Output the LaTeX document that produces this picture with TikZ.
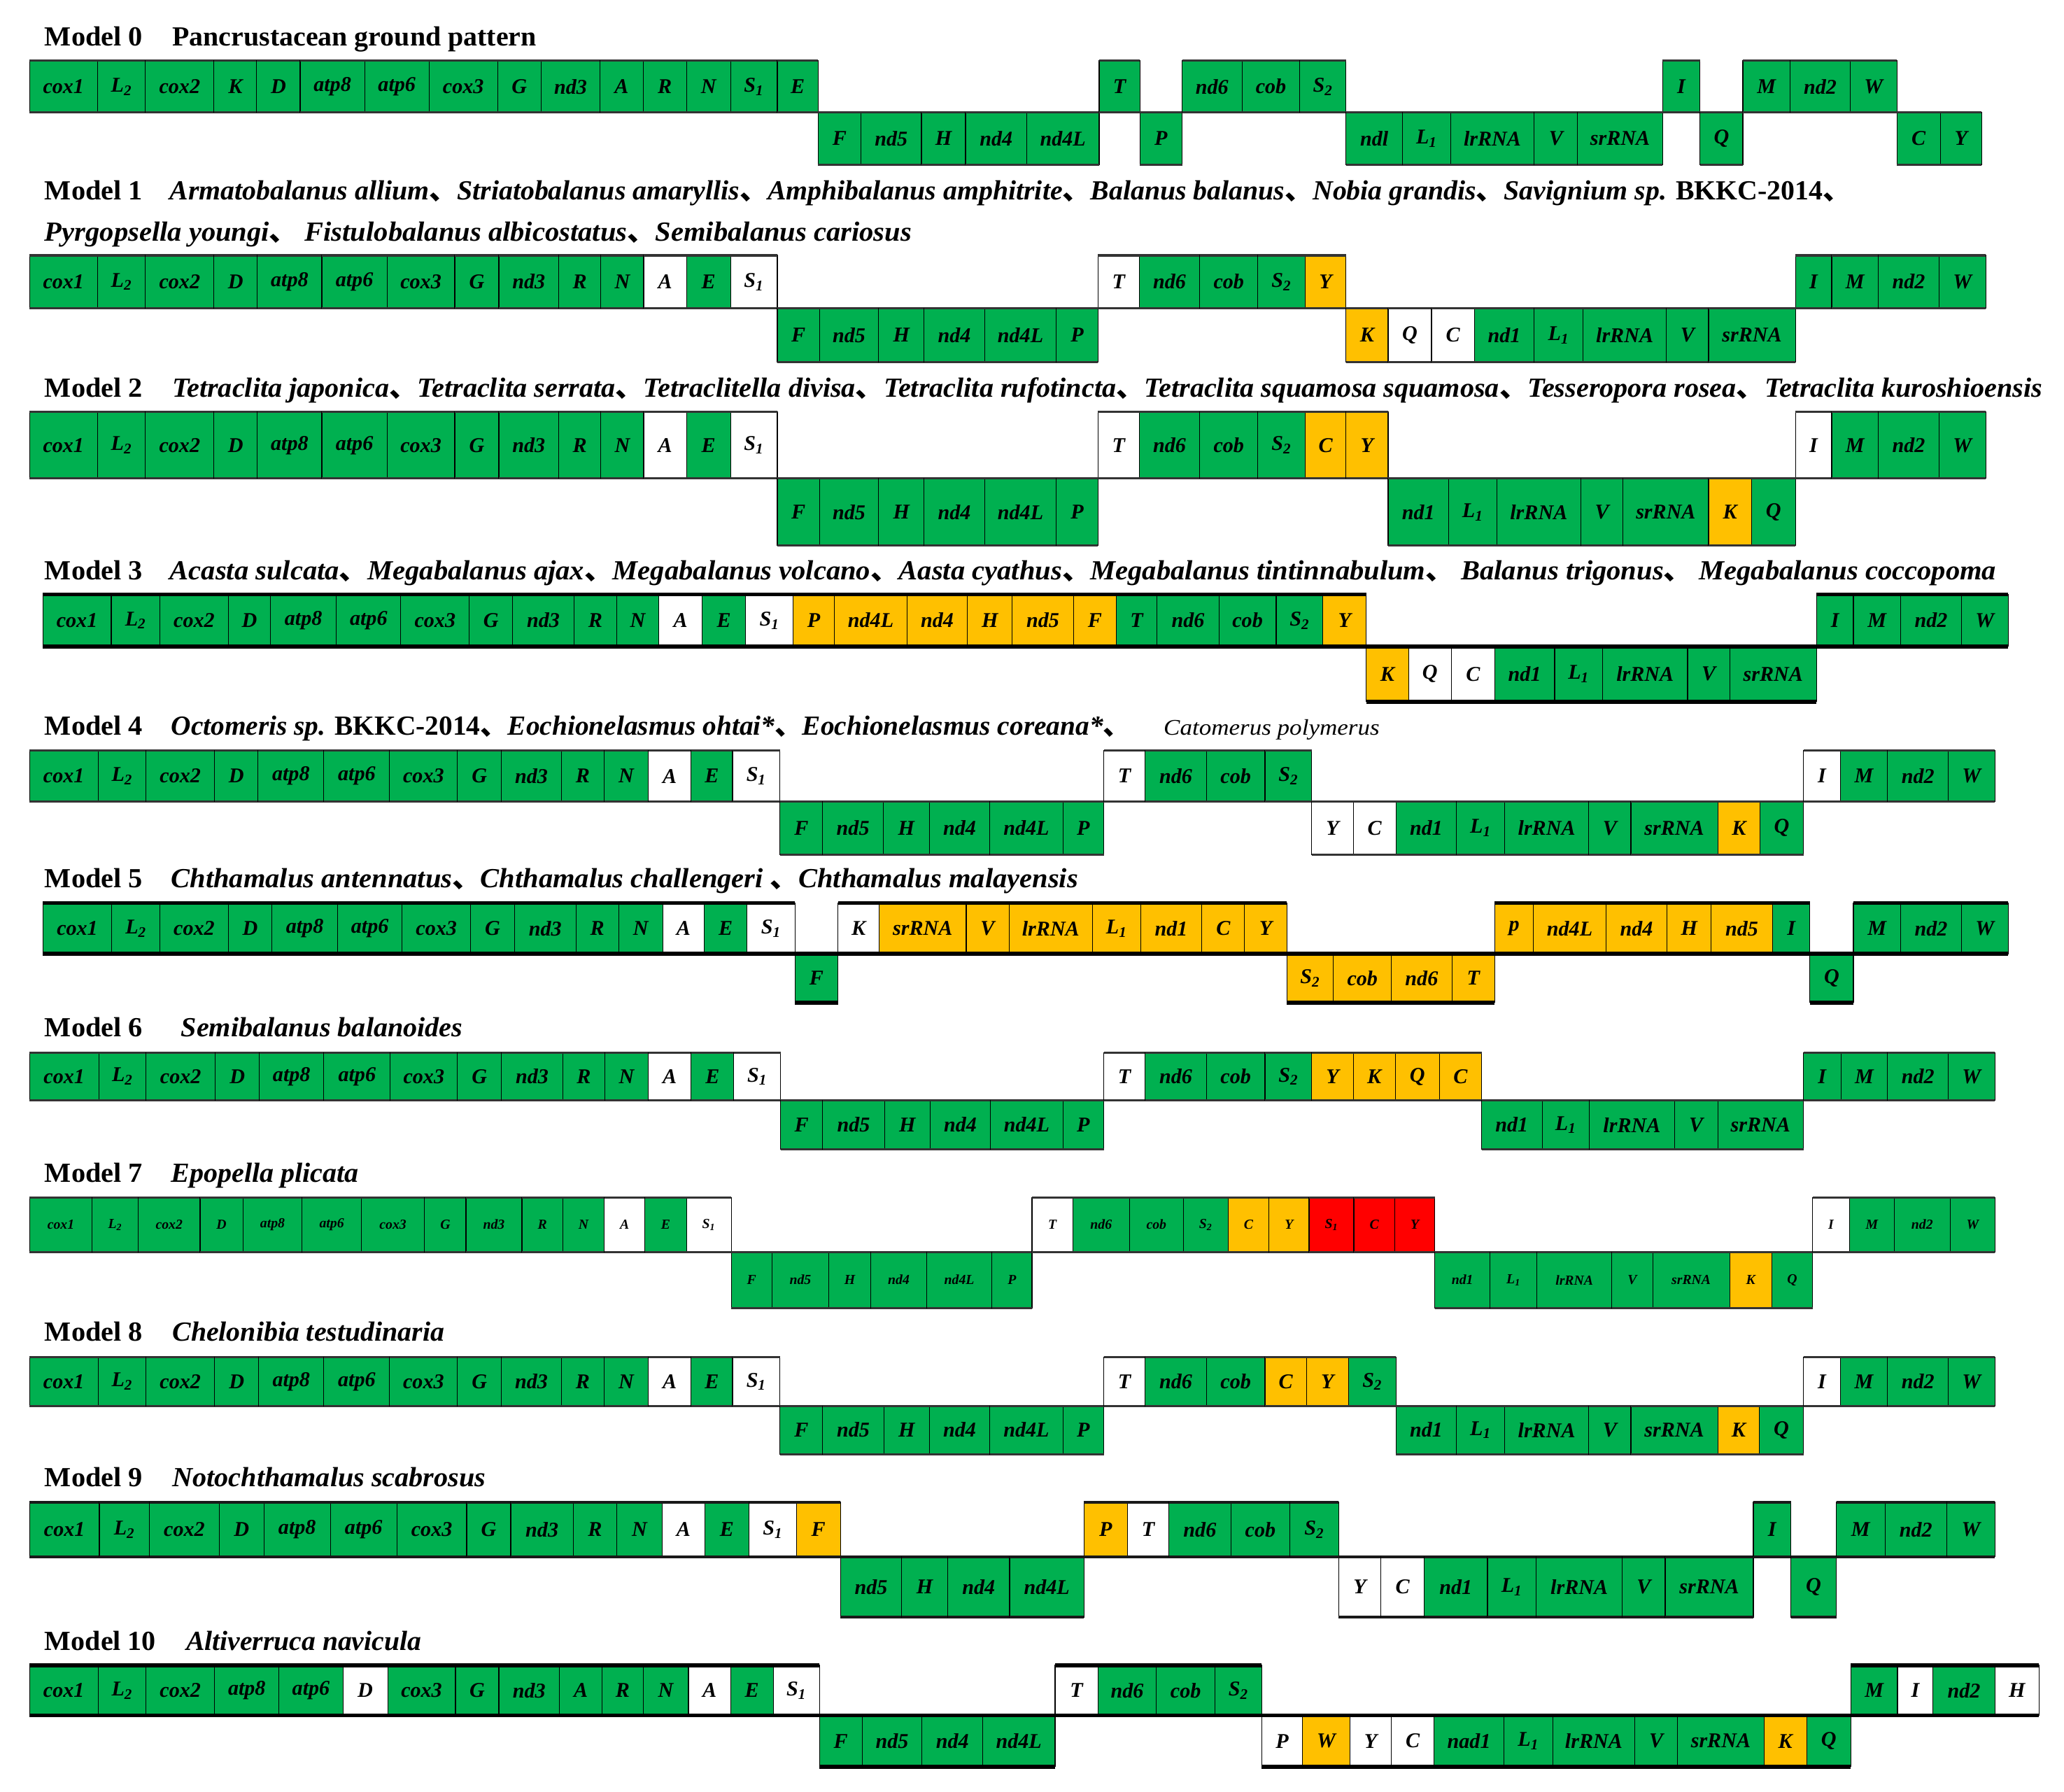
\documentclass[tikz,border=0pt]{standalone}
\usepackage{fontspec}
\setmainfont{Liberation Serif}
\newfontfamily\cjk{Noto Sans CJK SC}
\usepackage{graphicx}
\definecolor{cg}{HTML}{00B050}
\definecolor{co}{HTML}{FFC000}
\definecolor{cr}{HTML}{FF0000}
\definecolor{cw}{HTML}{FFFFFF}
\newcommand\dun{{\cjk 、}}
\newcommand\gLa{L\textsubscript{1}}
\newcommand\gLb{L\textsubscript{2}}
\newcommand\gSa{S\textsubscript{1}}
\newcommand\gSb{S\textsubscript{2}}
\tikzset{
 genebox/.style={draw=black, line width=0.6pt, inner sep=0pt, outer sep=0pt,
   font=\bfseries\itshape\fontsize{16}{16}\selectfont, text=black},
 geneedge/.style={line width=1.6pt, draw=black!80},
 heavy/.style={geneedge/.style={line width=3pt, draw=black}},
 titletext/.style={inner sep=0pt, outer sep=0pt, anchor=base west,
   font=\bfseries\fontsize{21}{21}\selectfont},
}
% #1 options, #2 id, #3 x0, #4 ytop, #5 ymid, #6 ybot, #7 list xend/row/colour/label
\newcommand\genemodel[7][]{%
 \begin{scope}[#1]
 \xdef\prevx{#3}%
 \foreach \xe/\rw/\cl/\lb [count=\i] in {#7} {%
   \pgfmathsetmacro\yt{\rw==0 ? #4 : #5}%
   \pgfmathsetmacro\yb{\rw==0 ? #5 : #6}%
   \pgfmathsetmacro\w{\xe-\prevx}%
   \pgfmathsetmacro\h{\yb-\yt}%
   \node[genebox, fill=\cl, minimum width=\w pt, minimum height=\h pt, anchor=north west] (m#2g\i) at (\prevx,-\yt) {\lb};
   \draw[geneedge] (m#2g\i.north west) -- (m#2g\i.north east) (m#2g\i.south west) -- (m#2g\i.south east);
   \xdef\prevx{\xe}%
 }
 \end{scope}}
\begin{document}
\begin{tikzpicture}[x=1pt,y=1pt]
\fill[white] (0,0) rectangle (1568,-1361);
\useasboundingbox (0,0) rectangle (1568,-1361);

% ---------- titles ----------
\node[titletext] (t0) at (34,-35) {\resizebox{74.5pt}{\height}{Model 0}};
\node[titletext] (s0) at (131,-35) {\resizebox{276.5pt}{\height}{Pancrustacean ground pattern}};
\node[titletext] (t1) at (34,-152) {\resizebox{74.5pt}{\height}{Model 1}};
\node[titletext] (s1a) at (129,-152) {\resizebox{1277pt}{\height}{\itshape Armatobalanus allium\dun Striatobalanus amaryllis\dun Amphibalanus amphitrite\dun Balanus balanus\dun Nobia grandis\dun Savignium sp. {\upshape BKKC-2014}\dun}};
\node[titletext] (s1b) at (34,-183) {\resizebox{658.5pt}{\height}{\itshape Pyrgopsella youngi\dun\ Fistulobalanus albicostatus\dun Semibalanus cariosus}};
\node[titletext] (t2) at (34,-301.5) {\resizebox{74.5pt}{\height}{Model 2}};
\node[titletext] (s2) at (131,-301.5) {\resizebox{1420.5pt}{\height}{\itshape Tetraclita japonica\dun Tetraclita serrata\dun Tetraclitella divisa\dun Tetraclita rufotincta\dun Tetraclita squamosa squamosa\dun Tesseropora rosea\dun Tetraclita kuroshioensis}};
\node[titletext] (t3) at (34,-440.5) {\resizebox{74.5pt}{\height}{Model 3}};
\node[titletext] (s3) at (129,-440.5) {\resizebox{1387.5pt}{\height}{\itshape Acasta sulcata\dun Megabalanus ajax\dun Megabalanus volcano\dun Aasta cyathus\dun Megabalanus tintinnabulum\dun\ Balanus trigonus\dun\ Megabalanus coccopoma}};
\node[titletext] (t4) at (34,-558.5) {\resizebox{74.5pt}{\height}{Model 4}};
\node[titletext] (s4) at (130,-558.5) {\resizebox{729pt}{\height}{\itshape Octomeris sp. {\upshape BKKC-2014}\dun Eochionelasmus ohtai*\dun Eochionelasmus coreana*\dun}};
\node[titletext] (s4b) at (884,-558.5) {\resizebox{164pt}{\height}{\mdseries\itshape\fontsize{17}{17}\selectfont Catomerus polymerus}};
\node[titletext] (t5) at (34,-674) {\resizebox{74.5pt}{\height}{Model 5}};
\node[titletext] (s5) at (130,-674) {\resizebox{689pt}{\height}{\itshape Chthamalus antennatus\dun Chthamalus challengeri \dun Chthamalus malayensis}};
\node[titletext] (t6) at (34,-787.5) {\resizebox{74.5pt}{\height}{Model 6}};
\node[titletext] (s6) at (137.5,-787.5) {\resizebox{214pt}{\height}{\itshape Semibalanus balanoides}};
\node[titletext] (t7) at (34,-898) {\resizebox{74.5pt}{\height}{Model 7}};
\node[titletext] (s7) at (130,-898) {\resizebox{142.5pt}{\height}{\itshape Epopella plicata}};
\node[titletext] (t8) at (34,-1018.5) {\resizebox{74.5pt}{\height}{Model 8}};
\node[titletext] (s8) at (131,-1018.5) {\resizebox{206.5pt}{\height}{\itshape Chelonibia testudinaria}};
\node[titletext] (t9) at (34,-1129) {\resizebox{74.5pt}{\height}{Model 9}};
\node[titletext] (s9) at (131,-1129) {\resizebox{238pt}{\height}{\itshape Notochthamalus scabrosus}};
\node[titletext] (t10) at (34,-1253.5) {\resizebox{84.5pt}{\height}{Model 10}};
\node[titletext] (s10) at (141.5,-1253.5) {\resizebox{178.5pt}{\height}{\itshape Altiverruca navicula}};

% ---------- Model 0 ----------
\genemodel{0}{22.5}{46}{85.5}{125}{74/0/cg/cox1, 110.5/0/cg/\gLb, 162.5/0/cg/cox2, 195/0/cg/K, 228/0/cg/D, 277/0/cg/atp8, 326/0/cg/atp6, 378/0/cg/cox3, 411/0/cg/G, 456/0/cg/nd3, 488.5/0/cg/A, 521.5/0/cg/R, 555/0/cg/N, 590.5/0/cg/\gSa, 621.5/0/cg/E,
654/1/cg/F, 700/1/cg/nd5, 733.5/1/cg/H, 780/1/cg/nd4, 835/1/cg/nd4L, 866/0/cg/T, 898/1/cg/P, 943.5/0/cg/nd6, 987.5/0/cg/cob, 1022.5/0/cg/\gSb, 1065.5/1/cg/ndl, 1102/1/cg/\gLa, 1165.5/1/cg/lrRNA, 1198.5/1/cg/V, 1263/1/cg/srRNA, 1291.5/0/cg/I, 1324/1/cg/Q, 1360/0/cg/M, 1405.5/0/cg/nd2, 1441/0/cg/W, 1474/1/cg/C, 1505.5/1/cg/Y}

% ---------- Model 1 ----------
\genemodel{1}{22.5}{194}{234}{275}{74/0/cg/cox1, 110.5/0/cg/\gLb, 162.5/0/cg/cox2, 195.5/0/cg/D, 244.5/0/cg/atp8, 294/0/cg/atp6, 345.5/0/cg/cox3, 379/0/cg/G, 424.5/0/cg/nd3, 456.5/0/cg/R, 489/0/cg/N, 521.5/0/cw/A, 555/0/cg/E, 590.5/0/cw/\gSa,
622.5/1/cg/F, 667.5/1/cg/nd5, 702/1/cg/H, 748/1/cg/nd4, 802.5/1/cg/nd4L, 834/1/cg/P,
865.5/0/cw/T, 911.5/0/cg/nd6, 955.5/0/cg/cob, 991.5/0/cg/\gSb, 1022.5/0/co/Y,
1054.5/1/co/K, 1087.5/1/cw/Q, 1120/1/cw/C, 1165.5/1/cg/nd1, 1202.5/1/cg/\gLa, 1266/1/cg/lrRNA, 1298/1/cg/V, 1364/1/cg/srRNA,
1391.5/0/cg/I, 1427/0/cg/M, 1473/0/cg/nd2, 1508.5/0/cg/W}

% ---------- Model 2 ----------
\genemodel{2}{22.5}{313}{363.5}{414.5}{74/0/cg/cox1, 110.5/0/cg/\gLb, 162.5/0/cg/cox2, 195.5/0/cg/D, 244.5/0/cg/atp8, 294/0/cg/atp6, 345.5/0/cg/cox3, 379/0/cg/G, 424.5/0/cg/nd3, 456.5/0/cg/R, 489/0/cg/N, 521.5/0/cw/A, 555/0/cg/E, 590.5/0/cw/\gSa,
622.5/1/cg/F, 667.5/1/cg/nd5, 702/1/cg/H, 748/1/cg/nd4, 802.5/1/cg/nd4L, 834/1/cg/P,
865.5/0/cw/T, 911.5/0/cg/nd6, 955.5/0/cg/cob, 991.5/0/cg/\gSb, 1022.5/0/co/C, 1054.5/0/co/Y,
1100.5/1/cg/nd1, 1137/1/cg/\gLa, 1201/1/cg/lrRNA, 1233/1/cg/V, 1298/1/cg/srRNA, 1330.5/1/co/K, 1364/1/cg/Q,
1391.5/0/cw/I, 1427/0/cg/M, 1473/0/cg/nd2, 1508.5/0/cg/W}

% ---------- Model 3 ----------
\genemodel[heavy]{3}{32.5}{451.5}{491}{533}{84.5/0/cg/cox1, 121.5/0/cg/\gLb, 173.5/0/cg/cox2, 205.5/0/cg/D, 255.5/0/cg/atp8, 304.5/0/cg/atp6, 356.5/0/cg/cox3, 389.5/0/cg/G, 436/0/cg/nd3, 468.5/0/cg/R, 500.5/0/cg/N, 533.5/0/cw/A, 566.5/0/cg/E, 602.5/0/cw/\gSa, 634/0/co/P, 689/0/co/nd4L, 735/0/co/nd4, 769/0/co/H, 815.5/0/co/nd5, 848/0/co/F, 879/0/cg/T, 926/0/cg/nd6, 969.5/0/cg/cob, 1005/0/cg/\gSb, 1038/0/co/Y,
1070/1/co/K, 1102.5/1/cw/Q, 1135.5/1/cw/C, 1181/1/cg/nd1, 1217.5/1/cg/\gLa, 1282/1/cg/lrRNA, 1314/1/cg/V, 1380/1/cg/srRNA,
1408/0/cg/I, 1444/0/cg/M, 1490/0/cg/nd2, 1525.5/0/cg/W}

% ---------- Model 4 ----------
\genemodel{4}{22.5}{570}{609}{649}{74.5/0/cg/cox1, 111/0/cg/\gLb, 163/0/cg/cox2, 196/0/cg/D, 246/0/cg/atp8, 296/0/cg/atp6, 347.5/0/cg/cox3, 381/0/cg/G, 426.5/0/cg/nd3, 459/0/cg/R, 492.5/0/cg/N, 525/0/cw/A, 556.5/0/cg/E, 592.5/0/cw/\gSa,
625/1/cg/F, 671/1/cg/nd5, 706/1/cg/H, 752/1/cg/nd4, 807.5/1/cg/nd4L, 838.5/1/cg/P,
870/0/cw/T, 916.5/0/cg/nd6, 961/0/cg/cob, 996.5/0/cg/\gSb,
1028/1/cw/Y, 1060.5/1/cw/C, 1106.5/1/cg/nd1, 1143/1/cg/\gLa, 1207/1/cg/lrRNA, 1239/1/cg/V, 1305/1/cg/srRNA, 1337/1/co/K, 1370/1/cg/Q,
1398/0/cw/I, 1434/0/cg/M, 1480/0/cg/nd2, 1515.5/0/cg/W}

% ---------- Model 5 ----------
\genemodel[heavy]{5}{32.5}{686}{724.5}{761.5}{85/0/cg/cox1, 121.5/0/cg/\gLb, 173.5/0/cg/cox2, 206.5/0/cg/D, 256.5/0/cg/atp8, 305.5/0/cg/atp6, 357.5/0/cg/cox3, 391/0/cg/G, 437.5/0/cg/nd3, 470/0/cg/R, 503.5/0/cg/N, 535/0/cw/A, 567.5/0/cg/E, 604/0/cw/\gSa,
636.5/1/cg/F,
668/0/cw/K, 734/0/co/srRNA, 766.5/0/co/V, 830/0/co/lrRNA, 866.5/0/co/\gLa, 913/0/co/nd1, 945.5/0/co/C, 977.5/0/co/Y,
1013/1/co/\gSb, 1057/1/co/cob, 1103/1/co/nd6, 1135.5/1/co/T,
1165/0/co/p, 1220/0/co/nd4L, 1266.5/0/co/nd4, 1300/0/co/H, 1346.5/0/co/nd5, 1375/0/cg/I,
1408/1/cg/Q,
1444/0/cg/M, 1490/0/cg/nd2, 1525.5/0/cg/W}

% ---------- Model 6 ----------
\genemodel{6}{22.5}{799.5}{836}{873}{75/0/cg/cox1, 111/0/cg/\gLb, 163.5/0/cg/cox2, 197/0/cg/D, 246/0/cg/atp8, 296.5/0/cg/atp6, 347.5/0/cg/cox3, 381/0/cg/G, 427.5/0/cg/nd3, 459.5/0/cg/R, 492.5/0/cg/N, 525/0/cw/A, 557.5/0/cg/E, 593/0/cw/\gSa,
625/1/cg/F, 672/1/cg/nd5, 706.5/1/cg/H, 752.5/1/cg/nd4, 807.5/1/cg/nd4L, 838.5/1/cg/P,
870/0/cw/T, 916.5/0/cg/nd6, 961/0/cg/cob, 996.5/0/cg/\gSb, 1028/0/co/Y, 1060/0/co/K, 1093.5/0/co/Q, 1125.5/0/co/C,
1171.5/1/cg/nd1, 1207.5/1/cg/\gLa, 1272/1/cg/lrRNA, 1305/1/cg/V, 1370/1/cg/srRNA,
1398.5/0/cg/I, 1434/0/cg/M, 1480/0/cg/nd2, 1515.5/0/cg/W}

% ---------- Model 7 ----------
\genemodel[genebox/.append style={font=\bfseries\itshape\fontsize{10.5}{10.5}\selectfont}]{7}{22.5}{909.5}{951}{993.5}{70/0/cg/cox1, 105/0/cg/\gLb, 152/0/cg/cox2, 184.5/0/cg/D, 229.5/0/cg/atp8, 274.5/0/cg/atp6, 322.5/0/cg/cox3, 354/0/cg/G, 396.5/0/cg/nd3, 427.5/0/cg/R, 459/0/cg/N, 490/0/cw/A, 521.5/0/cg/E, 555.5/0/cw/\gSa,
586.5/1/cg/F, 629.5/1/cg/nd5, 661.5/1/cg/H, 704/1/cg/nd4, 753.5/1/cg/nd4L, 784/1/cg/P,
815/0/cw/T, 858/0/cg/nd6, 899/0/cg/cob, 933/0/cg/\gSb, 964/0/co/C, 994.5/0/co/Y, 1028.5/0/cr/\gSa, 1059.5/0/cr/C, 1090/0/cr/Y,
1132/1/cg/nd1, 1167.5/1/cg/\gLa, 1224.5/1/cg/lrRNA, 1255.5/1/cg/V, 1314/1/cg/srRNA, 1346/1/co/K, 1377/1/cg/Q,
1405/0/cw/I, 1439/0/cg/M, 1481.5/0/cg/nd2, 1515.5/0/cg/W}

% ---------- Model 8 ----------
\genemodel{8}{22.5}{1031}{1068}{1104.5}{74.5/0/cg/cox1, 111/0/cg/\gLb, 163/0/cg/cox2, 196.5/0/cg/D, 246/0/cg/atp8, 296/0/cg/atp6, 347.5/0/cg/cox3, 381/0/cg/G, 426.5/0/cg/nd3, 459/0/cg/R, 492.5/0/cg/N, 525/0/cw/A, 556.5/0/cg/E, 592.5/0/cw/\gSa,
625/1/cg/F, 671.5/1/cg/nd5, 706/1/cg/H, 752/1/cg/nd4, 807.5/1/cg/nd4L, 838.5/1/cg/P,
870/0/cw/T, 916.5/0/cg/nd6, 961/0/cg/cob, 992.5/0/co/C, 1024.5/0/co/Y, 1060.5/0/cg/\gSb,
1106.5/1/cg/nd1, 1143/1/cg/\gLa, 1207/1/cg/lrRNA, 1239/1/cg/V, 1305/1/cg/srRNA, 1336.5/1/co/K, 1370/1/cg/Q,
1398/0/cw/I, 1434/0/cg/M, 1480/0/cg/nd2, 1515.5/0/cg/W}

% ---------- Model 9 ----------
\genemodel[geneedge/.style={line width=2pt, draw=black!90}]{9}{22.5}{1141}{1182.5}{1228.5}{75.5/0/cg/cox1, 113.5/0/cg/\gLb, 166.5/0/cg/cox2, 200.5/0/cg/D, 251/0/cg/atp8, 301.5/0/cg/atp6, 354.5/0/cg/cox3, 388/0/cg/G, 435.5/0/cg/nd3, 468.5/0/cg/R, 503/0/cg/N, 535.5/0/cw/A, 569/0/cg/E, 605/0/cw/\gSa, 638.5/0/co/F,
685/1/cg/nd5, 720/1/cg/H, 767/1/cg/nd4, 823.5/1/cg/nd4L,
856.5/0/co/P, 888/0/cw/T, 935/0/cg/nd6, 980/0/cg/cob, 1017/0/cg/\gSb,
1049/1/cw/Y, 1082/1/cw/C, 1130/1/cg/nd1, 1167/1/cg/\gLa, 1232.5/1/cg/lrRNA, 1265/1/cg/V, 1332/1/cg/srRNA,
1360.5/0/cg/I, 1395/1/cg/Q, 1432/0/cg/M, 1479/0/cg/nd2, 1515.5/0/cg/W}

% ---------- Model 10 ----------
\genemodel[heavy]{10}{22.5}{1265}{1303}{1342}{74.5/0/cg/cox1, 111/0/cg/\gLb, 163/0/cg/cox2, 212/0/cg/atp8, 260.5/0/cg/atp6, 294.5/0/cw/D, 346/0/cg/cox3, 379/0/cg/G, 425/0/cg/nd3, 457.5/0/cg/A, 488.5/0/cg/R, 523/0/cg/N, 555/0/cw/A, 587.5/0/cg/E, 622.5/0/cw/\gSa,
655/1/cg/F, 700.5/1/cg/nd5, 746.5/1/cg/nd4, 801.5/1/cg/nd4L,
834/0/cw/T, 878.5/0/cg/nd6, 923/0/cg/cob, 958.5/0/cg/\gSb,
989.5/1/cw/P, 1025.5/1/co/W, 1057/1/cw/Y, 1089.5/1/cw/C, 1142.5/1/cg/nad1, 1179.5/1/cg/\gLa, 1242/1/cg/lrRNA, 1274.5/1/cg/V, 1340/1/cg/srRNA, 1372.5/1/co/K, 1406/1/cg/Q,
1441.5/0/cg/M, 1468.5/0/cw/I, 1515.5/0/cg/nd2, 1549/0/cw/H}
\end{tikzpicture}
\end{document}
